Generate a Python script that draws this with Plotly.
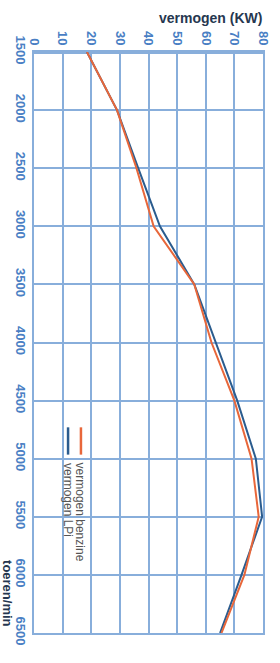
import plotly.graph_objects as go

rpm = [1500, 2000, 2500, 3000, 3500, 4000, 4500, 5000, 5500, 6000, 6500]
vermogen_benzine = [18.5, 29, 35.8, 41.8, 56, 62, 70, 76, 78.5, 73.5, 65.5]
vermogen_lpi = [18.5, 29, 36.4, 44, 56, 63.5, 71, 77.5, 79.7, 72.5, 65]
kw_ticks = [0, 10, 20, 30, 40, 50, 60, 70, 80]
rpm_ticks = [1500, 2000, 2500, 3000, 3500, 4000, 4500, 5000, 5500, 6000, 6500]

ORANGE = "#e8673a"
BLUE = "#2b5c8e"
GRID = "#88aedb"
TICK = "#4a7fc4"
DARK = "#263750"

fig = go.Figure()
fig.add_trace(go.Scatter(x=vermogen_lpi, y=rpm, mode="lines",
                         line=dict(color=BLUE, width=2), name="vermogen LPi"))
fig.add_trace(go.Scatter(x=vermogen_benzine, y=rpm, mode="lines",
                         line=dict(color=ORANGE, width=2), name="vermogen benzine"))

fig.update_layout(
    width=280, height=663,
    margin=dict(l=34, r=17, t=52, b=30),
    paper_bgcolor="white", plot_bgcolor="white",
    showlegend=False,
    font=dict(family="Liberation Sans, Arial, sans-serif"),
)
fig.update_xaxes(
    range=[0, 80], side="top", tickvals=kw_ticks, tickangle=90,
    tickfont=dict(size=13, color=TICK, weight="bold"),
    showgrid=True, gridcolor=GRID, gridwidth=2,
    showline=True, linecolor=GRID, linewidth=2, mirror=True,
    zeroline=True, zerolinecolor=GRID, zerolinewidth=4,
    ticks="", automargin=False,
)
fig.update_yaxes(
    range=[6500, 1500], tickvals=rpm_ticks, tickangle=90,
    tickfont=dict(size=13, color=TICK, weight="bold"),
    showgrid=True, gridcolor=GRID, gridwidth=2,
    showline=True, linecolor=GRID, linewidth=2, mirror=True,
    zeroline=False, ticks="", automargin=False,
)
# thicker top border at 1500
fig.add_shape(type="line", xref="paper", yref="y", x0=0, x1=1, y0=rpm[0], y1=rpm[0],
              line=dict(color=GRID, width=4), layer="below")

fig.add_annotation(text="vermogen (KW)", xref="paper", yref="paper", x=1.005, y=1,
                   xanchor="right", yanchor="middle", yshift=34, showarrow=False,
                   font=dict(size=14, color=DARK, weight="bold"))
fig.add_annotation(text="toeren/min", xref="paper", yref="y", x=-0.116, y=6160,
                   xanchor="center", yanchor="middle",
                   textangle=90, showarrow=False,
                   font=dict(size=13, color=DARK, weight="bold"))

# legend (rotated)
leg = [("vermogen benzine", ORANGE, 16.4), ("vermogen LPi", BLUE, 11.9)]
for label, col, xk in leg:
    fig.add_shape(type="line", xref="x", yref="y", x0=xk, x1=xk, y0=4730, y1=4965,
                  line=dict(color=col, width=2.5))
    fig.add_annotation(text=label, xref="x", yref="y", x=xk, y=5020,
                       xanchor="center", yanchor="top", textangle=90, showarrow=False,
                       font=dict(size=12, color="#555555"))

fig.write_html("out.html", config={"displayModeBar": False},
               post_script="document.body.style.margin='0';")
